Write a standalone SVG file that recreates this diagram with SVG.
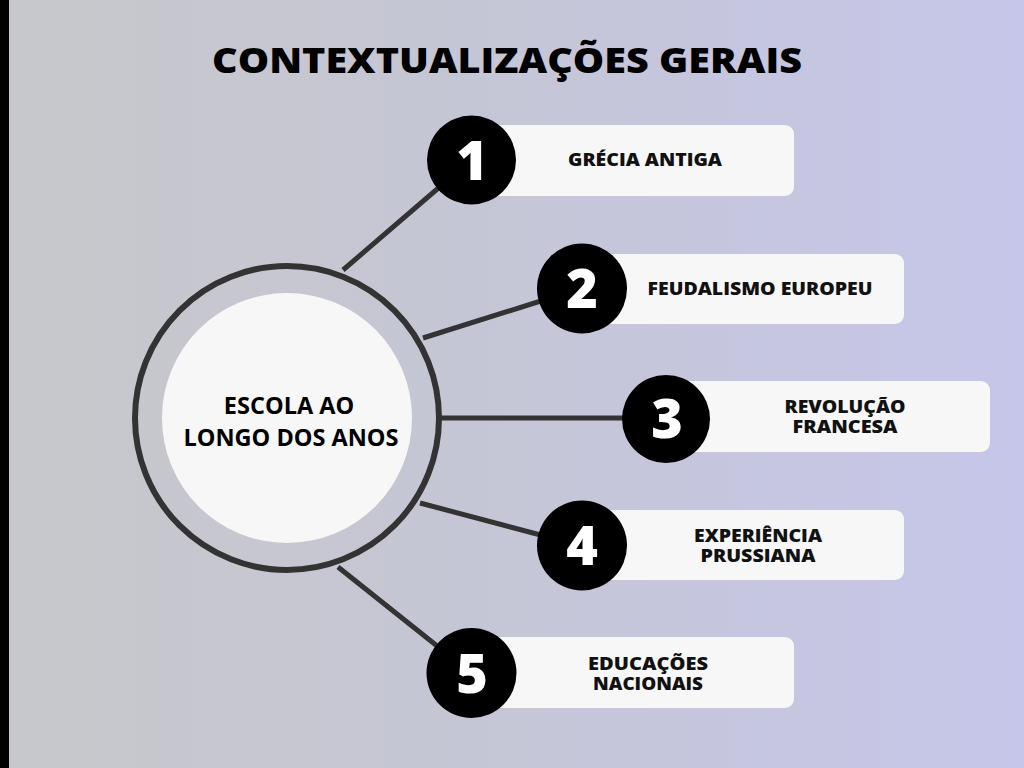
<svg xmlns="http://www.w3.org/2000/svg" width="1024" height="768" viewBox="0 0 1024 768">
<defs>
<linearGradient id="bg" x1="0" y1="0" x2="1" y2="0">
<stop offset="0" stop-color="#c7c8ca"/>
<stop offset="0.5" stop-color="#c5c6d6"/>
<stop offset="1" stop-color="#c6c6ea"/>
</linearGradient>
</defs>
<style>
.card{fill:#f7f7f7}
.num{fill:#000}
.numt{fill:#fff;font-family:"Open Sans","DejaVu Sans",sans-serif;font-weight:800;font-size:54px;text-anchor:middle}
.lbl{fill:#111;font-family:"Open Sans","DejaVu Sans",sans-serif;font-weight:800;font-size:17.5px;text-anchor:middle}
.conn{stroke:#333;stroke-width:5;fill:none}
</style>
<rect width="1024" height="768" fill="url(#bg)"/>
<rect x="0" y="0" width="9" height="768" fill="#000"/>
<text x="507" y="73" font-family="Open Sans, DejaVu Sans, sans-serif" font-weight="800" font-size="35" text-anchor="middle" fill="#000" textLength="590" lengthAdjust="spacingAndGlyphs">CONTEXTUALIZAÇÕES GERAIS</text>
<g id="connectors">
<line class="conn" x1="343" y1="270" x2="471" y2="160"/>
<line class="conn" x1="423" y1="338" x2="582" y2="288"/>
<line class="conn" x1="439" y1="418" x2="666" y2="418"/>
<line class="conn" x1="420" y1="503" x2="582" y2="546"/>
<line class="conn" x1="338" y1="567" x2="471" y2="673"/>
</g>
<g id="center">
<circle cx="287" cy="418" r="152" fill="none" stroke="#333" stroke-width="6"/>
<circle cx="287" cy="418" r="125" fill="#f7f7f7"/>
<text x="289" y="414" font-family="Open Sans, DejaVu Sans, sans-serif" font-weight="700" font-size="23.5" text-anchor="middle" fill="#000">ESCOLA AO</text>
<text x="291" y="446" font-family="Open Sans, DejaVu Sans, sans-serif" font-weight="700" font-size="23.5" text-anchor="middle" fill="#000">LONGO DOS ANOS</text>
</g>
<g id="node1">
<rect class="card" x="470" y="125" width="324" height="71" rx="9"/>
<circle class="num" cx="471.5" cy="160" r="44.5"/>
<text class="numt" x="472" y="180">1</text>
<text class="lbl" x="645" y="166" textLength="154" lengthAdjust="spacingAndGlyphs">GRÉCIA ANTIGA</text>
</g>
<g id="node2">
<rect class="card" x="580" y="254" width="324" height="70" rx="9"/>
<circle class="num" cx="582" cy="288.5" r="45"/>
<text class="numt" x="582" y="308">2</text>
<text class="lbl" x="760" y="295" textLength="225" lengthAdjust="spacingAndGlyphs">FEUDALISMO EUROPEU</text>
</g>
<g id="node3">
<rect class="card" x="666" y="381" width="324" height="71" rx="9"/>
<circle class="num" cx="666" cy="419" r="44"/>
<text class="numt" x="667" y="438">3</text>
<text class="lbl" x="845" y="413" textLength="121" lengthAdjust="spacingAndGlyphs">REVOLUÇÃO</text>
<text class="lbl" x="845" y="433" textLength="105" lengthAdjust="spacingAndGlyphs">FRANCESA</text>
</g>
<g id="node4">
<rect class="card" x="580" y="510" width="324" height="70" rx="9"/>
<circle class="num" cx="582" cy="545.5" r="45"/>
<text class="numt" x="582" y="565">4</text>
<text class="lbl" x="758" y="542" textLength="128" lengthAdjust="spacingAndGlyphs">EXPERIÊNCIA</text>
<text class="lbl" x="758" y="562" textLength="115" lengthAdjust="spacingAndGlyphs">PRUSSIANA</text>
</g>
<g id="node5">
<rect class="card" x="470" y="637" width="324" height="71" rx="9"/>
<circle class="num" cx="471.5" cy="673" r="45"/>
<text class="numt" x="472" y="693">5</text>
<text class="lbl" x="648" y="670" textLength="120" lengthAdjust="spacingAndGlyphs">EDUCAÇÕES</text>
<text class="lbl" x="648" y="690" textLength="110" lengthAdjust="spacingAndGlyphs">NACIONAIS</text>
</g>
</svg>
